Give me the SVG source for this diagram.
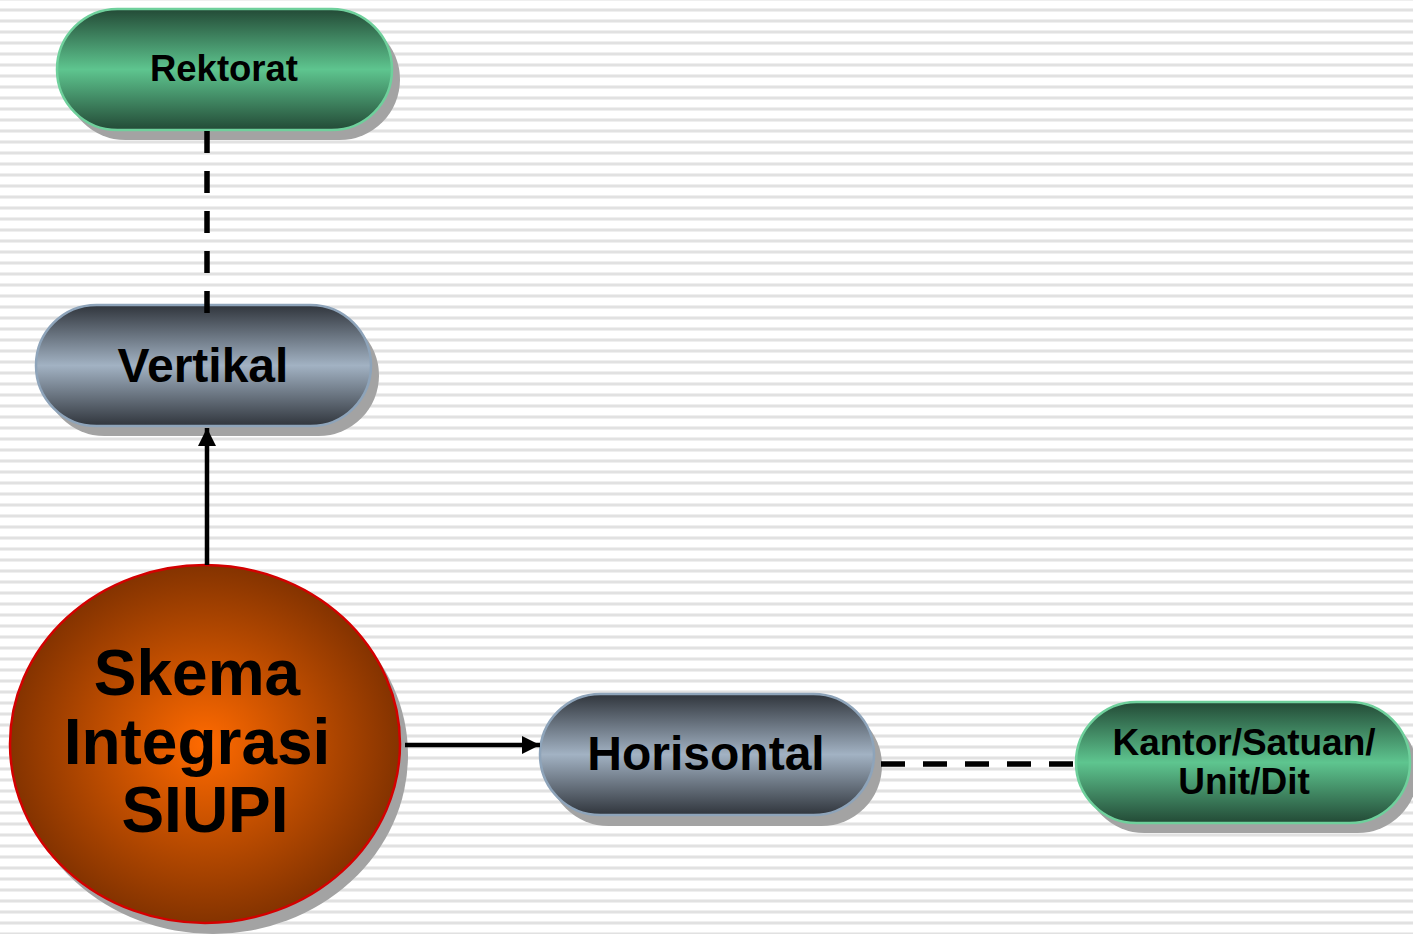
<svg xmlns="http://www.w3.org/2000/svg" width="1413" height="934" viewBox="0 0 1413 934">
<defs>
<pattern id="stripes" x="0" y="8" width="1413" height="11" patternUnits="userSpaceOnUse">
<rect x="0" y="0" width="1413" height="1" fill="#efefef"/>
<rect x="0" y="1" width="1413" height="2" fill="#e1e1e1"/>
<rect x="0" y="3" width="1413" height="1" fill="#efefef"/>
</pattern>
<linearGradient id="gGreen" x1="0" y1="0" x2="0" y2="1">
<stop offset="0" stop-color="#234a36"/>
<stop offset="0.5" stop-color="#5ec58f"/>
<stop offset="1" stop-color="#234a36"/>
</linearGradient>
<linearGradient id="gGray" x1="0" y1="0" x2="0" y2="1">
<stop offset="0" stop-color="#30353c"/>
<stop offset="0.5" stop-color="#a2b2c3"/>
<stop offset="1" stop-color="#30353c"/>
</linearGradient>
<radialGradient id="gOrange" cx="0.5" cy="0.5" r="0.5">
<stop offset="0" stop-color="#ff6a00"/>
<stop offset="1" stop-color="#843300"/>
</radialGradient>
<marker id="arr" viewBox="0 0 10 10" refX="10" refY="5" markerWidth="4.2" markerHeight="4" orient="auto" markerUnits="strokeWidth">
<path d="M0,0 L10,5 L0,10 Z" fill="#000"/>
</marker>
<style>
.shadow{fill:#a3a3a3}
.green{fill:url(#gGreen);stroke:#6fd09c;stroke-width:2.5}
.gray{fill:url(#gGray);stroke:#8ea4ba;stroke-width:2.5}
.t{font-family:"Liberation Sans",Arial,sans-serif;font-weight:bold;fill:#000;text-anchor:middle}
.dashv{stroke:#000;fill:none;stroke-width:5.5;stroke-dasharray:22 18}
.dash{stroke:#000;fill:none;stroke-width:5.5;stroke-dasharray:24 18}
.solid{stroke:#000;fill:none;stroke-width:4.5}
</style>
</defs>
<rect width="1413" height="934" fill="#ffffff"/>
<rect width="1413" height="934" fill="url(#stripes)"/>

<g id="rektorat">
<rect class="shadow" x="65" y="19" width="335" height="121" rx="60.5"/>
<rect class="green" x="57" y="9" width="335" height="121" rx="60.5"/>
<text class="t" x="224" y="81" font-size="36.5">Rektorat</text>
</g>

<g id="vertikal">
<rect class="shadow" x="44" y="315" width="335" height="121" rx="60.5"/>
<rect class="gray" x="36" y="305" width="335" height="121" rx="60.5"/>
<text class="t" x="203" y="382" font-size="48">Vertikal</text>
</g>

<g id="skema">
<ellipse class="shadow" cx="213" cy="755" rx="195" ry="179"/>
<ellipse cx="205" cy="744" rx="195" ry="179" fill="url(#gOrange)" stroke="#d40000" stroke-width="2.5"/>
<text class="t" x="197" y="695" font-size="64">Skema</text>
<text class="t" x="197" y="764" font-size="64">Integrasi</text>
<text class="t" x="205" y="832" font-size="64">SIUPI</text>
</g>

<g id="horisontal">
<rect class="shadow" x="548" y="705" width="334" height="121" rx="60.5"/>
<rect class="gray" x="540" y="694" width="334" height="121" rx="60.5"/>
<text class="t" x="706" y="770" font-size="48">Horisontal</text>
</g>

<g id="kantor">
<rect class="shadow" x="1084" y="712" width="334" height="121" rx="60.5"/>
<rect class="green" x="1076" y="702" width="334" height="121" rx="60.5"/>
<text class="t" x="1244" y="755" font-size="37">Kantor/Satuan/</text>
<text class="t" x="1244" y="794" font-size="37">Unit/Dit</text>
</g>

<g id="connectors">
<line class="dashv" x1="207" y1="131" x2="207" y2="315"/>
<line class="solid" x1="207" y1="565" x2="207" y2="428" marker-end="url(#arr)"/>
<line class="solid" x1="405" y1="745" x2="540" y2="745" marker-end="url(#arr)"/>
<line class="dash" x1="881" y1="764" x2="1076" y2="764"/>
</g>
</svg>
